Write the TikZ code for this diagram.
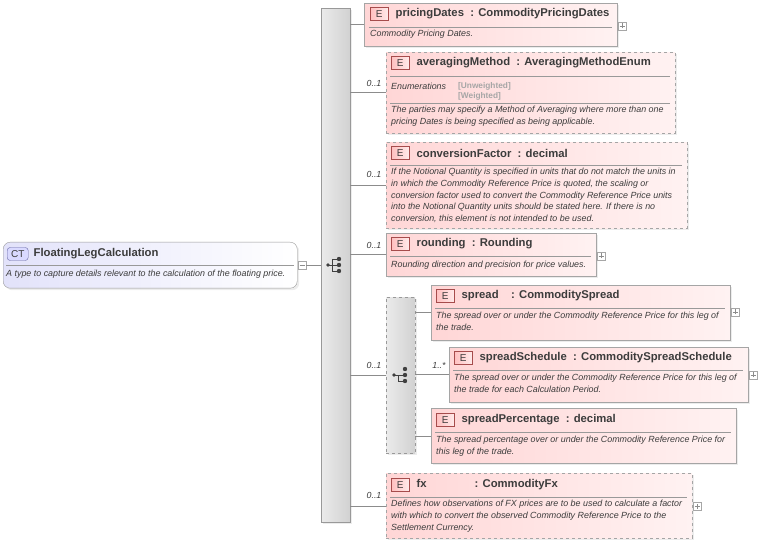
\documentclass[tikz,border=0pt]{standalone}
\usepackage{fontspec}
\setmainfont{Liberation Sans}
\usetikzlibrary{positioning,shadows}
\definecolor{elpink}{RGB}{255,214,214}
\definecolor{elpale}{RGB}{255,242,242}
\definecolor{elline}{RGB}{165,165,165}
\definecolor{ctblue}{RGB}{226,226,250}
\definecolor{txtgray}{RGB}{60,60,60}
\tikzset{
    x=1pt,y=-1pt,
    elem/.style={draw=elline,left color=elpink,right color=elpale,anchor=north west,inner sep=0pt,
        drop shadow={shadow xshift=2pt,shadow yshift=-2pt,fill=black!15}},
    optelem/.style={elem,dashed},
    badge/.style={draw=red!50!black!70,left color=red!25,right color=red!8,minimum width=18pt,minimum height=13pt,
        inner sep=0pt,font=\fontsize{10}{10}\selectfont,text=txtgray,anchor=west},
    title/.style={anchor=west,inner sep=0pt,font=\fontsize{11.3}{12}\selectfont\bfseries,text=txtgray},
    desc/.style={anchor=north west,inner sep=0pt,align=left,font=\fontsize{8.9}{11.7}\selectfont\itshape,text=txtgray},
    enum/.style={anchor=west,inner sep=0pt,font=\fontsize{8.3}{10}\selectfont\bfseries,text=black!35},
    sep/.style={draw=black!40},
    bar/.style={draw=black!40,left color=black!8,right color=black!18,anchor=north west,inner sep=0pt,
        drop shadow={shadow xshift=2pt,shadow yshift=-2pt,fill=black!15}},
    card/.style={anchor=south,inner sep=0pt,font=\fontsize{8.8}{9}\selectfont\itshape,text=txtgray},
    plus/.style={draw=black!35,fill=white,minimum size=8pt,inner sep=0pt,anchor=west,
        path picture={\draw[black!45] ([xshift=-2.5pt]path picture bounding box.center) -- ([xshift=2.5pt]path picture bounding box.center)
            ([yshift=-2.5pt]path picture bounding box.center) -- ([yshift=2.5pt]path picture bounding box.center);}},
    conn/.style={draw=black!45}
}
\begin{document}
\begin{tikzpicture}
\useasboundingbox (0,0) rectangle (758,545);

% complex type
\node[draw=black!40,rounded corners=7pt,left color=ctblue,right color=white,anchor=north west,inner sep=0pt,
    minimum width=294pt,minimum height=46pt,drop shadow={shadow xshift=2pt,shadow yshift=-2pt,fill=black!15}] (ct) at (3,242) {};
\node[draw=blue!40!black!60,fill=blue!15,rounded corners=3pt,minimum width=21pt,minimum height=13pt,inner sep=0pt,
    font=\fontsize{10}{10}\selectfont,text=txtgray,anchor=west] (ctbadge) at (7,254) {CT};
\node[title,right=5pt of ctbadge] (ctname) {FloatingLegCalculation};
\draw[sep] (6,265) -- (294,265);
\node[desc] (ctdesc) at (6,270) {A type to capture details relevant to the calculation of the floating price.};
\node[draw=black!35,fill=white,minimum size=8pt,inner sep=0pt] (ctminus) at (302,265) {};
\draw[black!45] ([xshift=-2.5pt]ctminus.center) -- ([xshift=2.5pt]ctminus.center);

% sequence bar
\node[bar,minimum width=29pt,minimum height=514pt] (seq) at (321,8) {};
\draw[conn] (ctminus.east) -- (seq.west |- ctminus.east);
\begin{scope}[shift={(335,265)},black!75]
  \draw (-7,0) -- (-3,0) (-3,-6) -- (-3,6) (-3,-6) -- (4,-6) (-3,0) -- (4,0) (-3,6) -- (4,6);
  \fill (-7,0) circle (1.8pt) (4,-6) circle (2.2pt) (4,0) circle (2.2pt) (4,6) circle (2.2pt);
\end{scope}

% pricingDates
\node[elem,minimum width=253pt,minimum height=43pt] (pd) at (364,3) {};
\node[badge] (pdbadge) at (370,14) {E};
\node[title,right=7pt of pdbadge] {pricingDates\ \ : CommodityPricingDates};
\draw[sep] (369,27) -- (612,27);
\node[desc] at (370,30) {Commodity Pricing Dates.};
\node[plus] (pdplus) at (618,26) {};
\draw[conn] (seq.east |- pd.west) -- (pd.west);

% averagingMethod
\node[optelem,minimum width=289pt,minimum height=81pt] (am) at (386,52) {};
\node[badge] (ambadge) at (391,63) {E};
\node[title,right=7pt of ambadge] {averagingMethod\ \ : AveragingMethodEnum};
\draw[sep] (390,76) -- (670,76);
\node[desc,anchor=west] at (391,86) {Enumerations};
\node[enum] at (458,86) {[Unweighted]};
\node[enum] at (458,96) {[Weighted]};
\draw[sep] (390,103) -- (670,103);
\node[desc] at (391,106) {The parties may specify a Method of Averaging where more than one\\pricing Dates is being specified as being applicable.};
\draw[conn] (seq.east |- am.west) -- (am.west);
\node[card] at (374,87) {0..1};

% conversionFactor
\node[optelem,minimum width=301pt,minimum height=86pt] (cf) at (386,142) {};
\node[badge] (cfbadge) at (391,153) {E};
\node[title,right=7pt of cfbadge] {conversionFactor\ \ : decimal};
\draw[sep] (390,165) -- (682,165);
\node[desc] at (391,168) {If the Notional Quantity is specified in units that do not match the units in\\in which the Commodity Reference Price is quoted, the scaling or\\conversion factor used to convert the Commodity Reference Price units\\into the Notional Quantity units should be stated here. If there is no\\conversion, this element is not intended to be used.};
\draw[conn] (seq.east |- cf.west) -- (cf.west);
\node[card] at (374,178) {0..1};

% rounding
\node[elem,minimum width=210pt,minimum height=43pt] (rd) at (386,233) {};
\node[badge] (rdbadge) at (391,244) {E};
\node[title,right=7pt of rdbadge] {rounding\ \ : Rounding};
\draw[sep] (390,256) -- (591,256);
\node[desc] at (391,261) {Rounding direction and precision for price values.};
\node[plus] (rdplus) at (597,256) {};
\draw[conn] (seq.east |- rd.west) -- (rd.west);
\node[card] at (374,249) {0..1};

% choice group
\node[bar,dashed,minimum width=29pt,minimum height=156pt] (ch) at (386,297) {};
\begin{scope}[shift={(401,375)},black!75]
  \draw (-7,0) -- (-3,0) -- (-3,6) -- (4,6) (-3,0) -- (4,0);
  \fill (-7,0) circle (1.8pt) (4,-6) circle (2.2pt) (4,0) circle (2.2pt) (4,6) circle (2.2pt);
\end{scope}
\draw[conn] (seq.east |- ch.west) -- (ch.west);
\node[card] at (374,369) {0..1};

% spread
\node[elem,minimum width=299pt,minimum height=55pt] (sp) at (431,285) {};
\node[badge] (spbadge) at (436,296) {E};
\node[title,right=7pt of spbadge] {spread\ \ \ \ : CommoditySpread};
\draw[sep] (435,308) -- (725,308);
\node[desc] at (436,312) {The spread over or under the Commodity Reference Price for this leg of\\the trade.};
\node[plus] (spplus) at (731,312) {};
\draw[conn] (ch.east |- sp.west) -- (sp.west);

% spreadSchedule
\node[elem,minimum width=299pt,minimum height=55pt] (ss) at (449,347) {};
\node[badge] (ssbadge) at (454,358) {E};
\node[title,right=7pt of ssbadge] {spreadSchedule\ \ : CommoditySpreadSchedule};
\draw[sep] (453,370) -- (743,370);
\node[desc] at (454,374) {The spread over or under the Commodity Reference Price for this leg of\\the trade for each Calculation Period.};
\node[plus] (ssplus) at (749,375) {};
\draw[conn] (ch.east |- ss.west) -- (ss.west);
\node[card] at (439,369) {1..*};

% spreadPercentage
\node[elem,minimum width=305pt,minimum height=55pt] (spp) at (431,408) {};
\node[badge] (sppbadge) at (436,420) {E};
\node[title,right=7pt of sppbadge] {spreadPercentage\ \ : decimal};
\draw[sep] (435,432) -- (731,432);
\node[desc] at (436,436) {The spread percentage over or under the Commodity Reference Price for\\this leg of the trade.};
\draw[conn] (ch.east |- spp.west) -- (spp.west);

% fx
\node[optelem,minimum width=306pt,minimum height=65pt] (fx) at (386,473) {};
\node[badge] (fxbadge) at (391,485) {E};
\node[title,right=7pt of fxbadge] {fx\hspace{48pt}: CommodityFx};
\draw[sep] (390,497) -- (687,497);
\node[desc] at (391,500) {Defines how observations of FX prices are to be used to calculate a factor\\with which to convert the observed Commodity Reference Price to the\\Settlement Currency.};
\node[plus] (fxplus) at (693,506) {};
\draw[conn] (seq.east |- fx.west) -- (fx.west);
\node[card] at (374,499) {0..1};

\end{tikzpicture}
\end{document}
